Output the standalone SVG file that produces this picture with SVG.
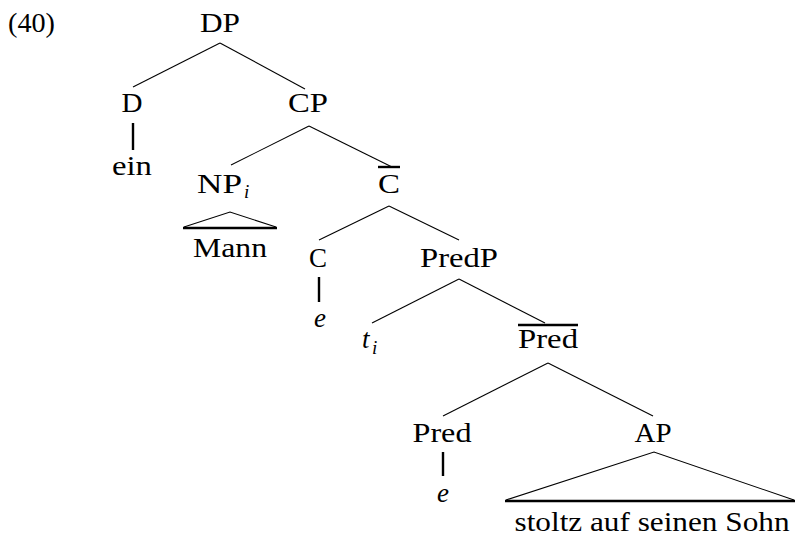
<svg xmlns="http://www.w3.org/2000/svg" width="796" height="536" viewBox="0 0 796 536">
<style>
.c{text-anchor:middle}
.it{font-style:italic}
.sub{font-size:19px;font-style:italic}
.e{stroke:#000;stroke-width:1.1;fill:none}
.t{stroke:#000;stroke-width:2.4;fill:none}
</style>
<rect width="796" height="536" fill="#fff"/>
<g font-family="Liberation Serif, Times New Roman, serif" font-size="27" fill="#000">
<text x="8" y="32" textLength="47" lengthAdjust="spacingAndGlyphs">(40)</text>
<g id="connectors">
<line class="e" x1="220" y1="43" x2="133" y2="87"/>
<line class="e" x1="220" y1="43" x2="305" y2="89"/>
<line class="t" x1="133" y1="123" x2="133" y2="150"/>
<line class="e" x1="309" y1="126" x2="231" y2="165"/>
<line class="e" x1="309" y1="126" x2="392" y2="167"/>
<line class="e" x1="389" y1="206" x2="319" y2="240"/>
<line class="e" x1="389" y1="206" x2="459" y2="240"/>
<line class="t" x1="319" y1="277" x2="319" y2="302"/>
<line class="e" x1="459" y1="279" x2="372" y2="323"/>
<line class="e" x1="459" y1="279" x2="545" y2="323"/>
<line class="e" x1="548" y1="363" x2="443" y2="416"/>
<line class="e" x1="548" y1="363" x2="653" y2="416"/>
<line class="t" x1="443" y1="452" x2="443" y2="476"/>
</g>
<g id="DP"><text class="c" x="220" y="32" textLength="40" lengthAdjust="spacingAndGlyphs">DP</text></g>
<g id="D"><text class="c" x="132" y="112" textLength="21" lengthAdjust="spacingAndGlyphs">D</text></g>
<g id="CP"><text class="c" x="308" y="112" textLength="40" lengthAdjust="spacingAndGlyphs">CP</text></g>
<g id="ein"><text class="c" x="132" y="175" textLength="40" lengthAdjust="spacingAndGlyphs">ein</text></g>
<g id="NPi"><text x="197" y="193" textLength="45" lengthAdjust="spacingAndGlyphs">NP</text><text class="sub" x="244" y="198">i</text></g>
<g id="Cbar"><line class="t" x1="378" y1="167" x2="400" y2="167"/><text class="c" x="389" y="193" textLength="22" lengthAdjust="spacingAndGlyphs">C</text></g>
<g id="Mann"><polyline class="e" points="184,227 230,212 276,227"/><line class="t" x1="183" y1="228" x2="277" y2="228"/><text class="c" x="230" y="257" textLength="74" lengthAdjust="spacingAndGlyphs">Mann</text></g>
<g id="C"><text class="c" x="318" y="267" textLength="18" lengthAdjust="spacingAndGlyphs">C</text></g>
<g id="PredP"><text class="c" x="459" y="267" textLength="78" lengthAdjust="spacingAndGlyphs">PredP</text></g>
<g id="e1"><text class="c it" x="320" y="327">e</text></g>
<g id="ti"><text class="it" x="362" y="348">t</text><text class="sub" x="372" y="354">i</text></g>
<g id="Predbar"><line class="t" x1="518" y1="325" x2="578" y2="325"/><text class="c" x="548" y="348" textLength="60" lengthAdjust="spacingAndGlyphs">Pred</text></g>
<g id="Pred"><text class="c" x="442" y="442" textLength="59" lengthAdjust="spacingAndGlyphs">Pred</text></g>
<g id="AP"><text class="c" x="653" y="442" textLength="37" lengthAdjust="spacingAndGlyphs">AP</text></g>
<g id="e2"><text class="c it" x="443" y="502">e</text></g>
<g id="stoltz"><polyline class="e" points="506,500 654,452 794,500"/><line class="t" x1="505" y1="501" x2="795" y2="501"/><text class="c" x="652" y="531" textLength="275" lengthAdjust="spacingAndGlyphs">stoltz auf seinen Sohn</text></g>
</g>
</svg>
